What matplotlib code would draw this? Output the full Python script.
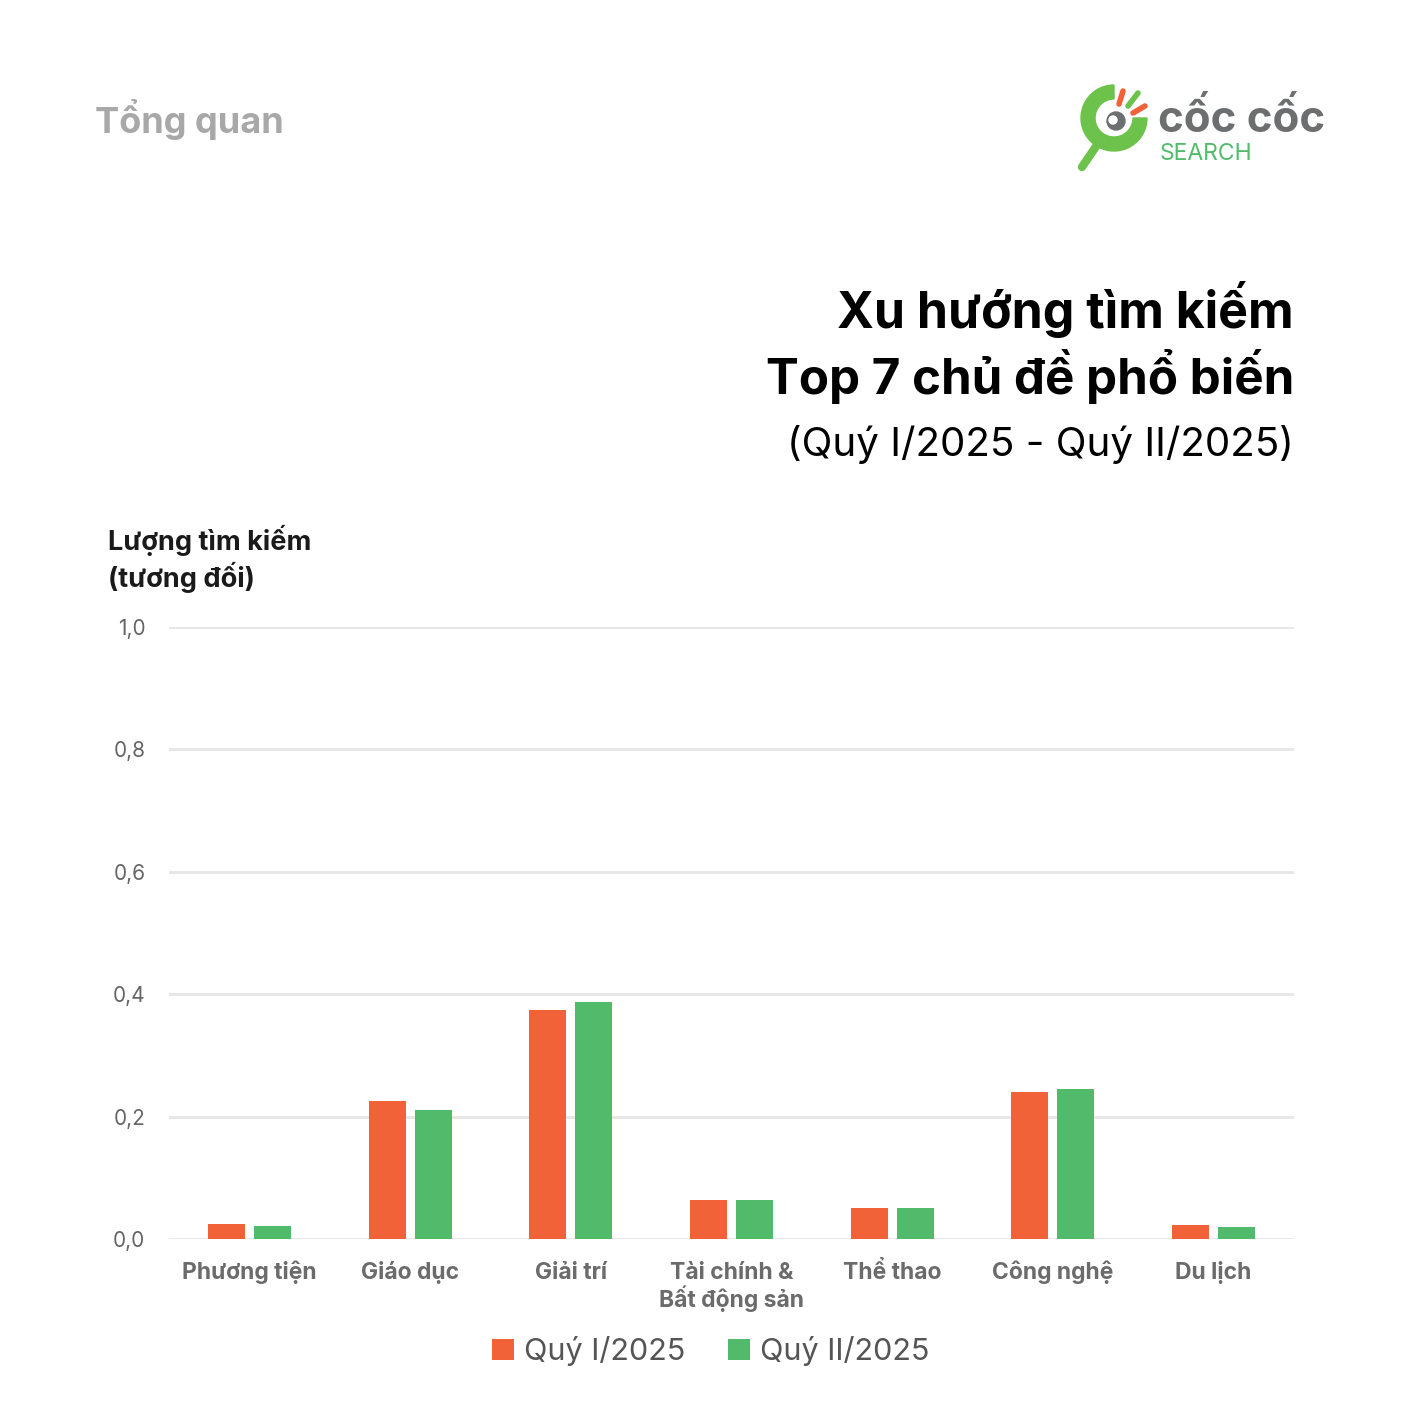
import matplotlib.pyplot as plt
from matplotlib.patches import Wedge, Circle
import numpy as np

plt.rcParams["font.family"] = ["Inter", "DejaVu Sans"]

categories = ["Phương tiện", "Giáo dục", "Giải trí", "Tài chính &\nBất động sản",
              "Thể thao", "Công nghệ", "Du lịch"]
q1_2025 = [0.024, 0.225, 0.375, 0.063, 0.051, 0.241, 0.023]
q2_2025 = [0.022, 0.210, 0.388, 0.064, 0.051, 0.245, 0.020]
series_names = ["Quý I/2025", "Quý II/2025"]
yticks = [0.0, 0.2, 0.4, 0.6, 0.8, 1.0]

ORANGE = "#F26239"
GREEN = "#52BB6B"
W, H = 1414, 1403


def fx(px):
    return px / W


def fy(py):
    return 1 - py / H


fig = plt.figure(figsize=(W / 100, H / 100), dpi=100)
fig.patch.set_facecolor("white")

ax = fig.add_axes([fx(169), fy(1239), fx(1294) - fx(169), (1239 - 627) / H])
x = np.arange(len(categories))
bw = 0.23
ax.bar(x - 0.143, q1_2025, bw, color=ORANGE, label=series_names[0], zorder=3)
ax.bar(x + 0.143, q2_2025, bw, color=GREEN, label=series_names[1], zorder=3)
ax.set_xlim(-0.5, len(categories) - 0.5)
ax.set_ylim(0, 1.0)
ax.set_yticks(yticks)
ax.set_yticklabels([f"{v:.1f}".replace(".", ",") for v in yticks], fontsize=15, color="#666666")
ax.set_xticks(x)
ax.set_xticklabels([])
ax.tick_params(length=0, axis="y", pad=17)
ax.tick_params(length=0, axis="x")
for s in ax.spines.values():
    s.set_visible(False)
ax.grid(axis="y", color="#e6e6e6", lw=2, zorder=0)

# category labels, each line on its own baseline so accents don't shift them
for i, cat in enumerate(categories):
    for j, line in enumerate(cat.split("\n")):
        ax.annotate(line, xy=(i, 0), xycoords=("data", "axes fraction"),
                    xytext=(0, -28.8 - j * 20.5), textcoords="offset points",
                    ha="center", va="baseline", fontsize=16.5, fontweight="bold",
                    color="#6b6b6b", annotation_clip=False)

fig.legend(loc="center", bbox_to_anchor=(fx(711), fy(1351)), ncol=2, frameon=False,
           fontsize=22, handlelength=0.7, handleheight=0.7, handletextpad=0.35,
           columnspacing=1.4, labelcolor="#555555")

# titles
fig.text(fx(95), fy(120), "Tổng quan", fontsize=26, fontweight="bold", color="#a8a8a8",
         ha="left", va="center")
fig.text(fx(1294), fy(310), "Xu hướng tìm kiếm", fontsize=36, fontweight="bold",
         color="black", ha="right", va="center")
fig.text(fx(1294), fy(377), "Top 7 chủ đề phổ biến", fontsize=35.5, fontweight="bold",
         color="black", ha="right", va="center")
fig.text(fx(1294), fy(445), "(Quý I/2025 - Quý II/2025)", fontsize=29,
         color="black", ha="right", va="center")
fig.text(fx(108), fy(540), "Lượng tìm kiếm", fontsize=19.5, fontweight="bold",
         color="#1a1a1a", ha="left", va="center")
fig.text(fx(108), fy(577), "(tương đối)", fontsize=19.5, fontweight="bold",
         color="#1a1a1a", ha="left", va="center")

# logo
lax = fig.add_axes([0, 0, 1, 1], facecolor="none")
lax.set_xlim(0, W)
lax.set_ylim(H, 0)
lax.axis("off")
lax.add_patch(Wedge((1114, 118), 33, 0, 270, width=14, color="#6cc24a"))
lax.plot([1097, 1082], [145, 167], color="#6cc24a", lw=6, solid_capstyle="round")
lax.add_patch(Circle((1116, 121), 9, color="#6d6e70"))
lax.add_patch(Circle((1113, 120), 4, color="white"))
lax.plot([1119, 1123], [104, 91], color=ORANGE, lw=4, solid_capstyle="round")
lax.plot([1128, 1138], [106, 93], color="#6cc24a", lw=4, solid_capstyle="round")
lax.plot([1133, 1145], [113, 106], color=ORANGE, lw=4, solid_capstyle="round")
lax.text(1158, 120, "cốc cốc", fontsize=31.5, fontweight="bold", color="#6d6e70",
         ha="left", va="center")
lax.text(1160, 154, "SEARCH", fontsize=16.5, color="#52BB6B", ha="left", va="center")

fig.savefig("out.png", dpi=100, facecolor="white")
